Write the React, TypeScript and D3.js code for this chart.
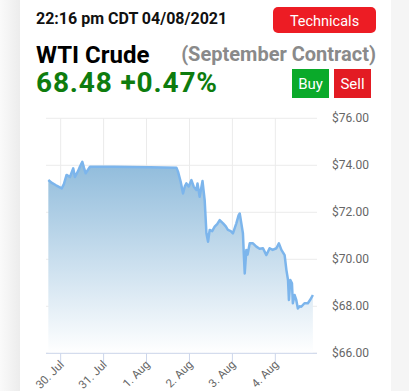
import React from "react";
import { scaleTime, scaleLinear, area, line, timeParse, timeFormat, curveLinear } from "d3";

// header text
const stamp = "22:16 pm CDT 04/08/2021";
const title = "WTI Crude";
const contract = "(September Contract)";
const quote = "68.48 +0.47%";

// price series (CDT)
const times = [
  "2021-07-29 17:06", "2021-07-29 19:06", "2021-07-29 21:24", "2021-07-30 00:36", "2021-07-30 01:48",
  "2021-07-30 03:18", "2021-07-30 05:12", "2021-07-30 07:00", "2021-07-30 08:00", "2021-07-30 09:42",
  "2021-07-30 10:48", "2021-07-30 12:06", "2021-07-30 13:00", "2021-07-30 14:00", "2021-07-30 15:12",
  "2021-07-30 16:24", "2021-07-31 06:00", "2021-08-01 02:00", "2021-08-01 16:42", "2021-08-01 17:36",
  "2021-08-01 19:06", "2021-08-01 20:24", "2021-08-01 21:24", "2021-08-01 22:18", "2021-08-01 23:36",
  "2021-08-02 01:06", "2021-08-02 02:24", "2021-08-02 03:54", "2021-08-02 04:30", "2021-08-02 05:42",
  "2021-08-02 07:18", "2021-08-02 08:30", "2021-08-02 09:30", "2021-08-02 10:24", "2021-08-02 11:18",
  "2021-08-02 12:42", "2021-08-02 14:06", "2021-08-02 15:30", "2021-08-02 16:54", "2021-08-02 18:48",
  "2021-08-02 20:18", "2021-08-02 21:30", "2021-08-02 23:06", "2021-08-03 00:18", "2021-08-03 02:12",
  "2021-08-03 03:30", "2021-08-03 04:06", "2021-08-03 05:00", "2021-08-03 05:54", "2021-08-03 06:24",
  "2021-08-03 06:54", "2021-08-03 07:48", "2021-08-03 08:30", "2021-08-03 09:42", "2021-08-03 11:30",
  "2021-08-03 13:24", "2021-08-03 15:12", "2021-08-03 17:06", "2021-08-03 19:00", "2021-08-03 20:48",
  "2021-08-03 22:30", "2021-08-04 00:36", "2021-08-04 02:00", "2021-08-04 03:24", "2021-08-04 05:12",
  "2021-08-04 06:12", "2021-08-04 07:06", "2021-08-04 07:36", "2021-08-04 08:24", "2021-08-04 09:18",
  "2021-08-04 09:48", "2021-08-04 10:48", "2021-08-04 11:42", "2021-08-04 12:36", "2021-08-04 13:36",
  "2021-08-04 14:30", "2021-08-04 16:18", "2021-08-04 18:12", "2021-08-04 19:42", "2021-08-04 21:00",
];
const prices = [
  73.37, 73.25, 73.15, 73.02, 73.2,
  73.59, 73.5, 73.87, 73.5, 73.75,
  73.95, 74.15, 73.9, 73.66, 73.8,
  73.94, 73.94, 73.92, 73.9, 73.73,
  73.3, 72.8, 73.1, 73.23, 73.1,
  73.37, 73.09, 72.95, 73.23, 72.66,
  73.33, 72.52, 71.1, 70.75, 71.25,
  71.2, 71.39, 71.5, 71.67, 71.53,
  71.4, 71.25, 71.2, 71.1, 71.53,
  71.88, 71.95, 71.53, 71.1, 70.2,
  69.4, 70.4, 70.2, 70.68, 70.68,
  70.54, 70.45, 70.47, 70.18, 70.47,
  70.4, 70.47, 70.68, 70.4, 70.18,
  69.54, 69.12, 68.27, 69.12, 68.98,
  68.13, 68.48, 68.27, 67.91, 68.0,
  67.98, 68.13, 68.13, 68.3, 68.48,
];

const xTicks = ["2021-07-30 00:00", "2021-07-31 00:00", "2021-08-01 00:00", "2021-08-02 00:00", "2021-08-03 00:00", "2021-08-04 00:00"];
const yTicks = [66, 68, 70, 72, 74, 76];

const parse = timeParse("%Y-%m-%d %H:%M");
const fmtDay = timeFormat("%-d. %b");

const W = 409;
const H = 391;
const plot = { left: 46, right: 317, top: 118.3, bottom: 353.3 };

const App = () => {
  const data = times.map((t, i) => ({ date: parse(t) as Date, price: prices[i] }));

  const x = scaleTime()
    .domain([parse("2021-07-29 15:48") as Date, parse("2021-08-04 23:18") as Date])
    .range([plot.left, plot.right]);
  const y = scaleLinear().domain([66, 76]).range([plot.bottom, plot.top]);

  const areaPath = area<any>()
    .x(d => x(d.date))
    .y0(plot.bottom)
    .y1(d => y(d.price))
    .curve(curveLinear)(data);
  const linePath = line<any>()
    .x(d => x(d.date))
    .y(d => y(d.price))(data);

  const font = "Roboto, 'Liberation Sans', Arial, sans-serif";

  return (
    <svg width={W} height={H} style={{ position: "absolute", left: 0, top: 0, fontFamily: font }}>
      <defs>
        <linearGradient id="pageShade" x1="0" x2="1" y1="0" y2="0">
          <stop offset="0" stopColor="#fafafa" />
          <stop offset="1" stopColor="#ececec" />
        </linearGradient>
        <linearGradient id="fillGrad" gradientUnits="userSpaceOnUse" x1="0" x2="0" y1={y(74.2)} y2={plot.bottom}>
          <stop offset="0" stopColor="#8fbbdb" />
          <stop offset="1" stopColor="#ffffff" />
        </linearGradient>
      </defs>

      <rect x={0} y={0} width={W} height={H} fill="#f5f5f5" />
      <rect x={0} y={0} width={20} height={H} fill="url(#pageShade)" />
      <rect x={20} y={0} width={371} height={H} fill="#ffffff" />

      {/* header */}
      <text x={36} y={24} fontSize={16} fontWeight="bold" fill="#111">{stamp}</text>
      <rect x={273} y={7} width={103} height={26} rx={5} fill="#ed1c24" />
      <text x={324.5} y={25.5} fontSize={14.5} fill="#fff" textAnchor="middle">Technicals</text>

      <text x={36} y={63} fontSize={24} fontWeight="bold" fill="#000">{title}</text>
      <text x={376} y={61} fontSize={20} fontWeight="bold" fill="#8a8a8a" textAnchor="end">{contract}</text>
      <text x={36} y={92} fontSize={28} fontWeight="bold" fill="#0e7c0e" textLength={181} lengthAdjust="spacing">{quote}</text>

      <rect x={292} y={69} width={37} height={29} fill="#0aaa2a" />
      <text x={310.5} y={88.5} fontSize={15} fill="#fff" textAnchor="middle">Buy</text>
      <rect x={334} y={69} width={37} height={29} fill="#e31b23" />
      <text x={352.5} y={88.5} fontSize={15} fill="#fff" textAnchor="middle">Sell</text>

      {/* grid */}
      {yTicks.map((t, i) => (
        <line key={"gy" + i} x1={plot.left} x2={plot.right} y1={y(t)} y2={y(t)} stroke="#ebebeb" />
      ))}
      {xTicks.map((t, i) => (
        <line key={"gx" + i} x1={x(parse(t) as Date)} x2={x(parse(t) as Date)} y1={plot.top} y2={plot.bottom} stroke="#ebebeb" />
      ))}

      <path d={areaPath || ""} fill="url(#fillGrad)" />
      <path d={linePath || ""} fill="none" stroke="#7cb5ec" strokeWidth={2.5} strokeLinejoin="round" />

      {/* axes */}
      <line x1={plot.left} x2={plot.right} y1={plot.bottom} y2={plot.bottom} stroke="#ccd6eb" />
      {xTicks.map((t, i) => {
        const px = x(parse(t) as Date);
        return (
          <g key={"tx" + i}>
            <line x1={px} x2={px} y1={plot.bottom} y2={plot.bottom + 9} stroke="#ccd6eb" />
            <text transform={`translate(${px + 4},${plot.bottom + 12}) rotate(-45)`} textAnchor="end" fontSize={11.5} fill="#666">
              {fmtDay(parse(t) as Date)}
            </text>
          </g>
        );
      })}
      {yTicks.map((t, i) => (
        <text key={"ty" + i} x={332} y={y(t) + 4} fontSize={12} fill="#666">${t.toFixed(2)}</text>
      ))}
    </svg>
  );
};

export default App;
